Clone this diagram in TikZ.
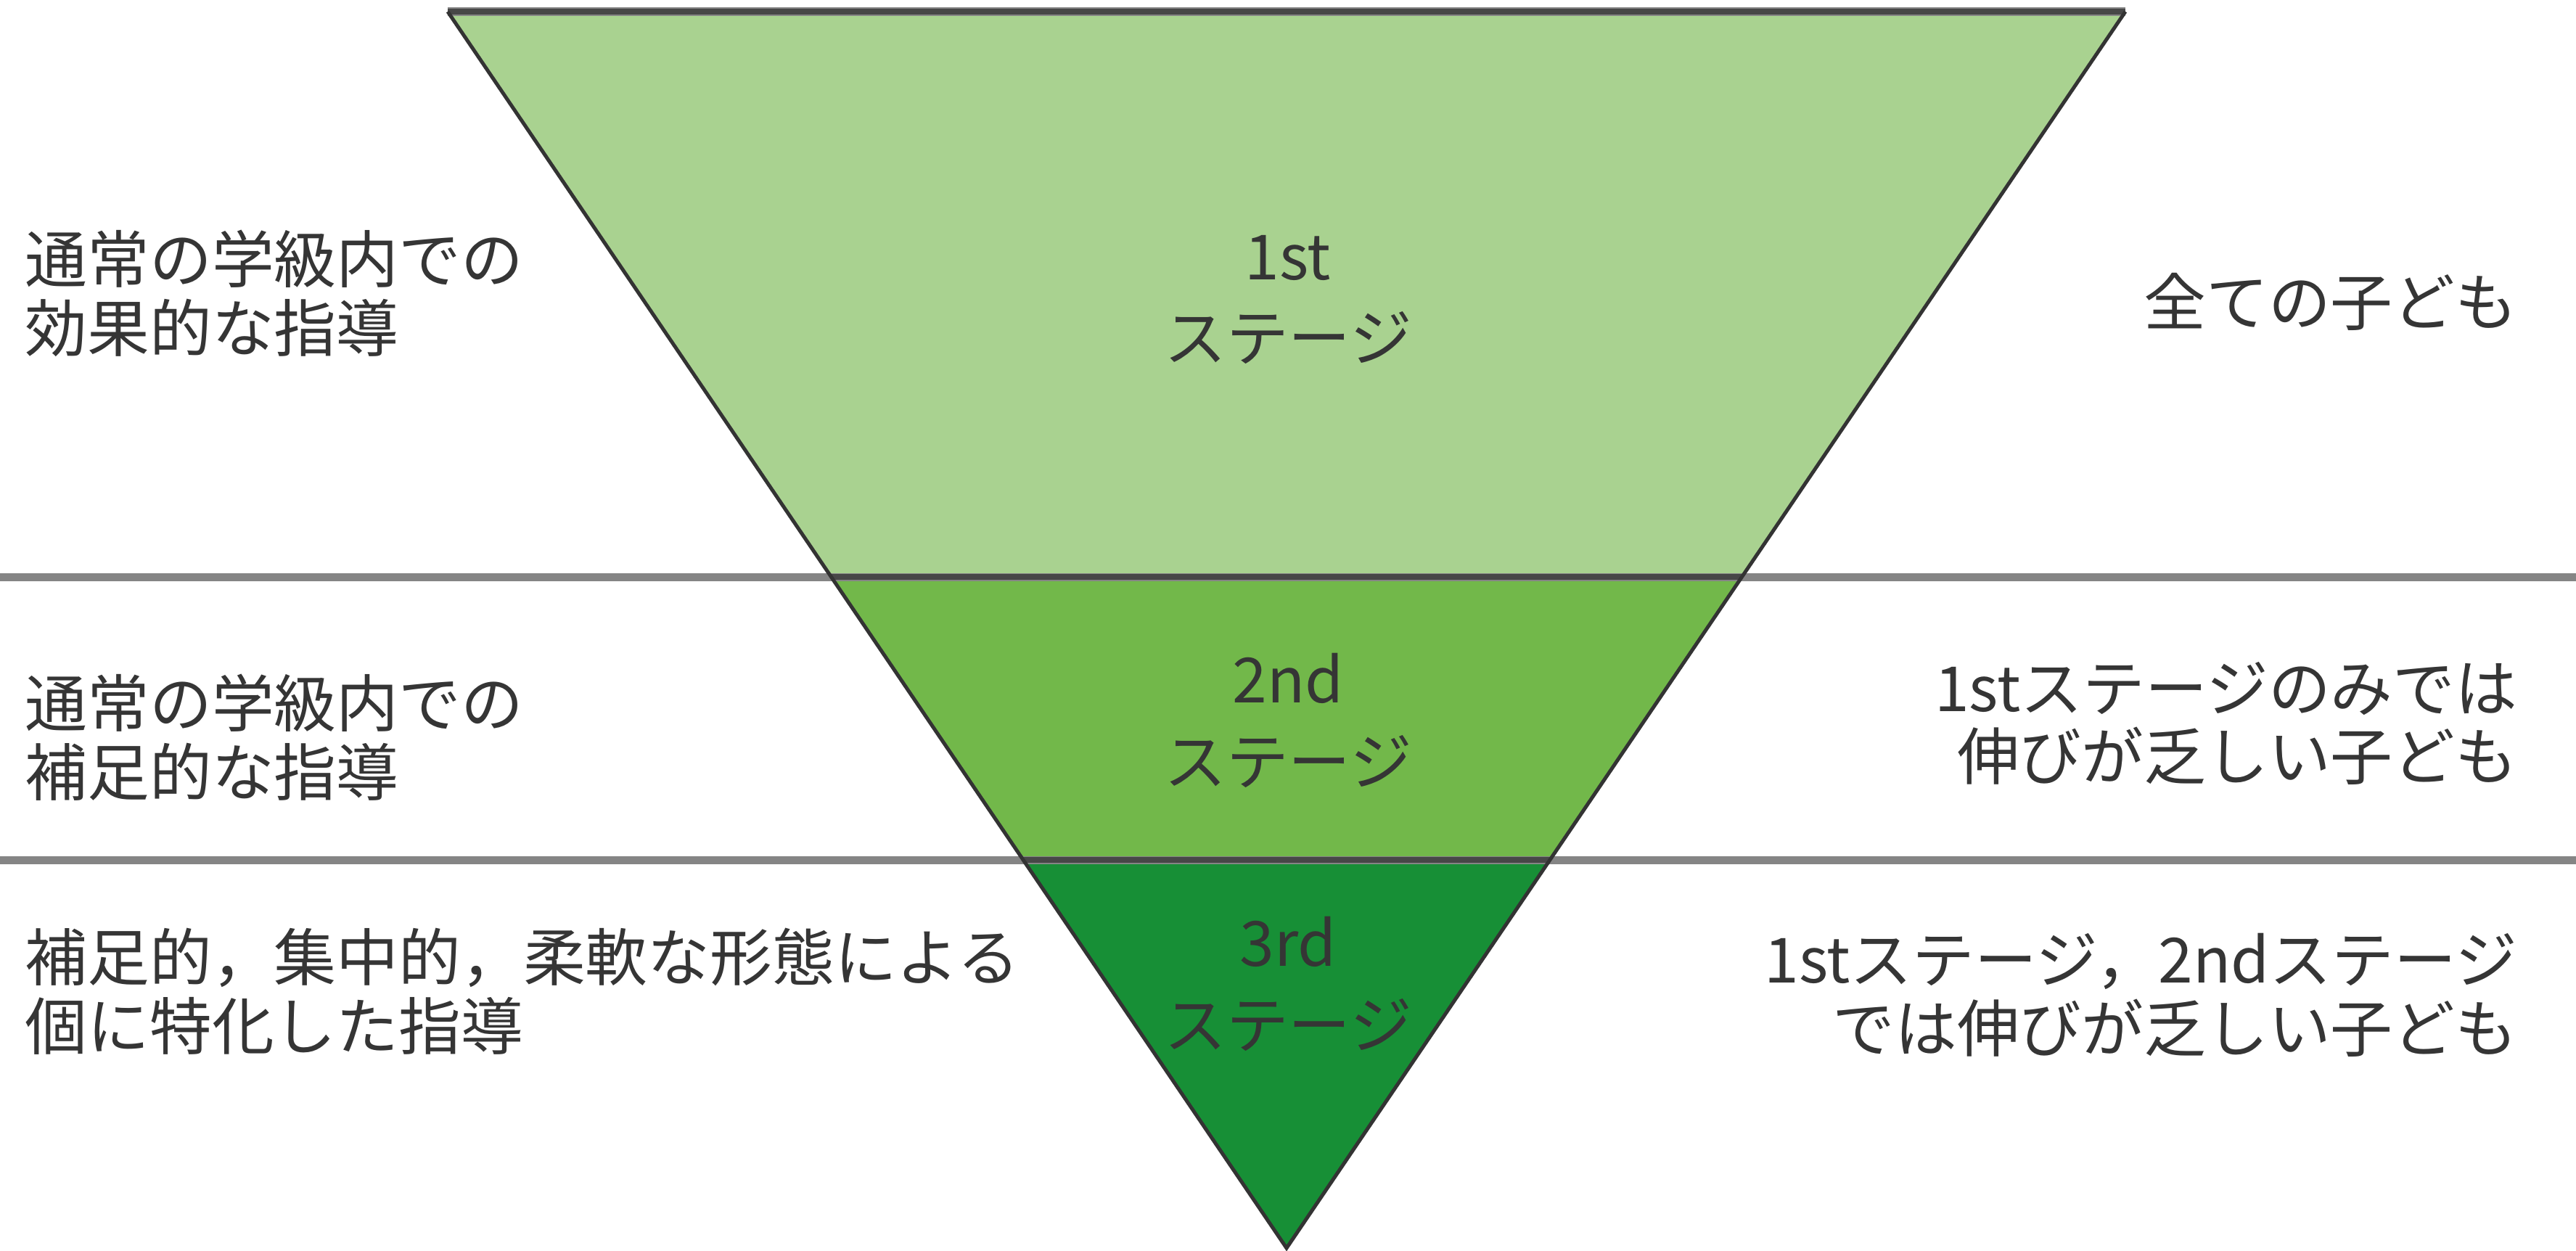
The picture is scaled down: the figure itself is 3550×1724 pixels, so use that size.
\documentclass[tikz,border=0pt]{standalone}
\usepackage{fontspec}
\setmainfont{Noto Sans CJK JP}
\definecolor{gA}{HTML}{A9D290}
\definecolor{gB}{HTML}{72B84A}
\definecolor{gC}{HTML}{178F36}
\definecolor{txt}{HTML}{353535}
\definecolor{rulec}{HTML}{858585}
\definecolor{edgec}{HTML}{333333}
\begin{document}
\begin{tikzpicture}[x=0.01cm,y=-0.01cm,
  lbl/.style={font=\fontsize{24.4pt}{27pt}\selectfont, text=txt, inner sep=0pt},
  leftlbl/.style={lbl, anchor=west, align=left},
  rightlbl/.style={lbl, anchor=east, align=right},
  stagelbl/.style={inner sep=0pt, text=txt, align=center, font=\fontsize{24.4pt}{32pt}\selectfont},
  rulel/.style={rulec, line width=0.11cm},
  edgel/.style={edgec, line width=0.05cm, line join=miter},
  inner/.style={edgec!75!rulec, line width=0.08cm}]
\useasboundingbox[fill=white] (0,0) rectangle (3550,1724);
% key points
\coordinate (TL) at (617,16);
\coordinate (TR) at (2929,16);
\coordinate (AP) at (1773,1720);
\coordinate (L1) at (1145.5,795);
\coordinate (R1) at (2400.5,795);
\coordinate (L2) at (1410,1185);
\coordinate (R2) at (2136,1185);
\coordinate (W1) at (0,795);
\coordinate (E1) at (3550,795);
\coordinate (W2) at (0,1185);
\coordinate (E2) at (3550,1185);
% fills
\fill[gA] (TL) -- (TR) -- (R1) -- (L1) -- cycle;
\fill[gB] (L1) -- (R1) -- (R2) -- (L2) -- cycle;
\fill[gC] (L2) -- (R2) -- (AP) -- cycle;
% horizontal rules
\draw[rulel] (W1) -- (E1);
\draw[rulel] (W2) -- (E2);
\draw[rulel] (TL) -- (TR);
\draw[inner] (L1) -- (R1);
\draw[inner] (L2) -- (R2);
\draw[inner] (TL) -- (TR);
% triangle edges
\draw[edgel] (TL) -- (AP) -- (TR);
% stage labels
\node[stagelbl] (s1) at (1775,413) {1st\\ステージ};
\node[stagelbl] (s2) at (1775,993) {2nd\\ステージ};
\node[stagelbl] (s3) at (1775,1356) {3rd\\ステージ};
% left labels
\node[leftlbl] (l1) at (34,404) {通常の学級内での\\効果的な指導};
\node[leftlbl] (l2) at (34,1016) {通常の学級内での\\補足的な指導};
\node[leftlbl] (l3) at (34,1366) {補足的，集中的，柔軟な形態による\\個に特化した指導};
% right labels
\node[rightlbl] (r1) at (3470,416) {全ての子ども};
\node[rightlbl] (r2) at (3470,997) {1stステージのみでは\\伸びが乏しい子ども};
\node[rightlbl] (r3) at (3470,1371) {1stステージ，2ndステージ\\では伸びが乏しい子ども};
\end{tikzpicture}
\end{document}
